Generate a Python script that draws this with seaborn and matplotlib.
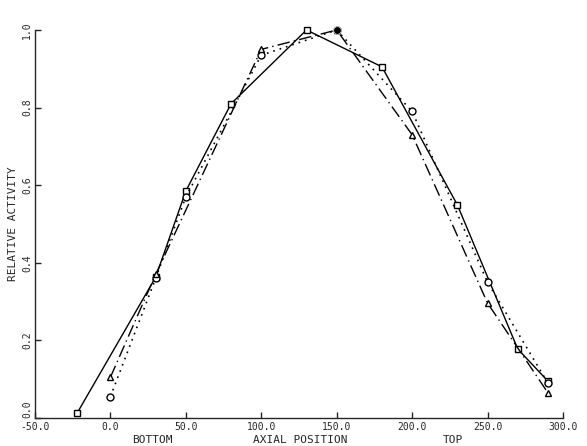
import matplotlib
matplotlib.use("Agg")
import matplotlib.pyplot as plt
import seaborn as sns

# axial activity profiles
sq_x = [-22, 30, 50, 80, 130, 180, 230, 270, 290]
sq_y = [0.013, 0.363, 0.585, 0.81, 1.0, 0.905, 0.549, 0.178, 0.095]

circ_x = [0, 30, 50, 100, 150, 200, 250, 290]
circ_y = [0.055, 0.36, 0.57, 0.935, 1.0, 0.79, 0.35, 0.09]

tri_x = [0, 30, 100, 150, 200, 250, 290]
tri_y = [0.105, 0.37, 0.95, 1.0, 0.73, 0.296, 0.065]

ref_x = [150]
ref_y = [1.0]

x_ticks = [-50, 0, 50, 100, 150, 200, 250, 300]
y_ticks = [0.0, 0.2, 0.4, 0.6, 0.8, 1.0]

sns.set_style("ticks")
plt.rcParams['font.family'] = ['DejaVu Sans Mono', 'DejaVu Sans']

fig = plt.figure(figsize=(5.87, 4.46), dpi=100)
ax = fig.add_axes([0.0596, 0.0628, 0.8995, 0.87])

mk = dict(ms=5, markerfacecolor='white', markeredgecolor='k', mew=1.0, clip_on=False)
sns.lineplot(x=sq_x, y=sq_y, ax=ax, color='k', lw=1.0, marker='s', sort=False, **mk)
sns.lineplot(x=circ_x, y=circ_y, ax=ax, color='k', lw=1.2, linestyle=(0, (1, 3)),
             marker='o', sort=False, **mk)
sns.lineplot(x=tri_x, y=tri_y, ax=ax, color='k', lw=1.0, linestyle=(0, (9, 3, 1, 3)),
             marker='^', sort=False, **mk)
sns.scatterplot(x=ref_x, y=ref_y, ax=ax, color='k', s=30, zorder=10, clip_on=False)

ax.set_xlim(-50, 300)
ax.set_ylim(0, 1.0)
ax.set_xticks(x_ticks)
ax.set_yticks(y_ticks)
ax.set_xticklabels([f"{v:.1f}" for v in x_ticks], fontsize=7)
ylabs = ax.set_yticklabels([f"{v:.1f}" for v in y_ticks], fontsize=7, rotation=90, va='center')
ylabs[0].set_va('bottom')
ax.tick_params(direction='in', length=4, width=1, pad=3)
ax.tick_params(axis='y', pad=2)
sns.despine(ax=ax)
for s in ['left', 'bottom']:
    ax.spines[s].set_linewidth(1.0)

ax.set_ylabel("RELATIVE ACTIVITY", fontsize=8, labelpad=3)
ax.set_xlabel("")

fig.text(152 / 587, 1 - 435 / 446, "BOTTOM", fontsize=8, ha='center', va='top')
fig.text(300 / 587, 1 - 435 / 446, "AXIAL POSITION", fontsize=8, ha='center', va='top')
fig.text(453 / 587, 1 - 435 / 446, "TOP", fontsize=8, ha='center', va='top')

fig.savefig("out.png", dpi=100)
